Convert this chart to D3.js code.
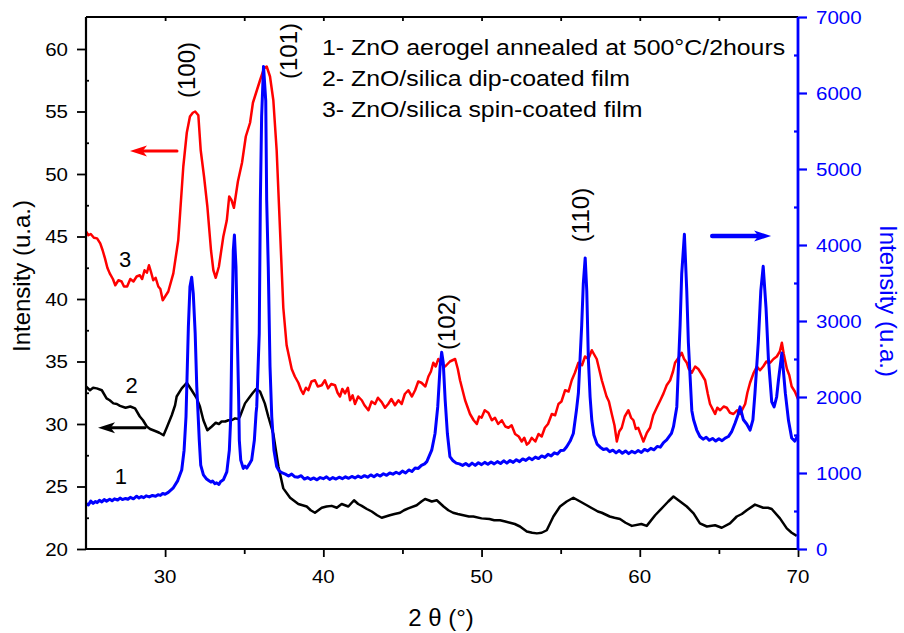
<!DOCTYPE html>
<html>
<head>
<meta charset="utf-8">
<script src="https://cdn.jsdelivr.net/npm/d3@7"></script>
<style>
	body{margin:0;background:#fff;}
	svg{display:block;font-family:"Liberation Sans",Arial,sans-serif;}
</style>
</head>
<body>
<div id="chart"></div>
<script>
//curve 1 - ZnO aerogel (right axis), [2theta, intensity]
const curve1 = [[25.0,600],[25.15,580],[25.3,630],[25.45,600],[25.6,625],[25.7,610],[25.85,640],[26.0,620],[26.15,650],[26.3,630],[26.5,655],[26.65,635],[26.8,660],[27.0,645],[27.15,670],[27.3,650],[27.5,665],[27.65,655],[27.8,680],[28.0,660],[28.2,695],[28.35,670],[28.5,690],[28.65,675],[28.8,700],[29.0,685],[29.2,705],[29.4,695],[29.55,715],[29.7,705],[29.85,730],[30.0,720],[30.2,745],[30.5,800],[30.8,900],[31.05,1040],[31.2,1300],[31.32,1740],[31.47,2920],[31.57,3450],[31.68,3575],[31.78,3360],[31.9,2840],[32.0,2140],[32.1,1700],[32.16,1430],[32.25,1105],[32.42,975],[32.6,925],[32.73,905],[32.9,880],[33.0,895],[33.15,860],[33.26,870],[33.4,850],[33.5,885],[33.68,910],[33.9,1015],[34.06,1300],[34.15,1740],[34.22,2840],[34.31,3930],[34.38,4130],[34.48,3710],[34.56,2840],[34.65,1960],[34.69,1430],[34.78,1170],[34.94,1060],[35.05,1090],[35.16,1065],[35.3,1110],[35.47,1170],[35.64,1430],[35.75,1790],[35.79,1870],[35.95,2840],[36.02,4590],[36.1,5690],[36.22,6350],[36.36,5900],[36.42,4590],[36.52,3710],[36.63,2400],[36.74,1740],[36.88,1300],[37.05,1085],[37.2,1030],[37.37,1005],[37.6,985],[37.8,960],[38.0,985],[38.2,950],[38.4,945],[38.6,965],[38.8,920],[39.0,940],[39.2,915],[39.4,935],[39.6,910],[39.8,940],[40.0,925],[40.2,950],[40.4,915],[40.6,940],[40.8,920],[41.0,945],[41.2,925],[41.4,950],[41.6,930],[41.8,955],[42.0,935],[42.2,960],[42.4,940],[42.6,965],[42.8,945],[43.0,975],[43.2,950],[43.4,980],[43.6,960],[43.8,990],[44.0,970],[44.2,1000],[44.4,985],[44.6,1010],[44.8,990],[45.0,1025],[45.2,1000],[45.4,1040],[45.6,1020],[45.8,1065],[46.0,1060],[46.2,1100],[46.4,1120],[46.54,1150],[46.85,1300],[47.06,1520],[47.23,1870],[47.38,2400],[47.48,2590],[47.58,2450],[47.7,1960],[47.84,1520],[48.0,1215],[48.2,1160],[48.4,1130],[48.6,1120],[48.8,1100],[49.0,1125],[49.2,1095],[49.4,1130],[49.6,1100],[49.8,1135],[50.0,1110],[50.2,1140],[50.4,1115],[50.6,1145],[50.8,1120],[51.0,1150],[51.2,1125],[51.4,1160],[51.6,1130],[51.8,1165],[52.0,1140],[52.2,1175],[52.4,1150],[52.6,1185],[52.8,1165],[53.0,1200],[53.2,1175],[53.4,1210],[53.6,1190],[53.8,1225],[54.0,1205],[54.2,1245],[54.4,1225],[54.6,1265],[54.8,1250],[55.0,1295],[55.2,1300],[55.38,1345],[55.6,1420],[55.8,1520],[56.0,1830],[56.12,2050],[56.33,2945],[56.43,3490],[56.55,3830],[56.65,3395],[56.75,2500],[56.86,2000],[56.97,1690],[57.1,1500],[57.3,1380],[57.5,1340],[57.7,1310],[57.9,1320],[58.1,1280],[58.3,1300],[58.5,1265],[58.7,1295],[58.9,1260],[59.1,1290],[59.3,1255],[59.5,1285],[59.7,1265],[59.9,1295],[60.1,1270],[60.3,1310],[60.5,1290],[60.7,1325],[60.9,1305],[61.1,1350],[61.3,1340],[61.5,1400],[61.7,1435],[62.0,1520],[62.13,1610],[62.34,1870],[62.55,2950],[62.65,3620],[62.82,4140],[62.97,3395],[63.07,2720],[63.29,1820],[63.4,1700],[63.6,1565],[63.8,1480],[64.0,1445],[64.2,1470],[64.4,1430],[64.6,1455],[64.8,1420],[65.0,1450],[65.2,1425],[65.4,1460],[65.6,1480],[65.8,1540],[66.02,1655],[66.2,1760],[66.34,1870],[66.55,1700],[66.76,1645],[66.97,1565],[67.15,1700],[67.28,2050],[67.49,2720],[67.65,3400],[67.8,3720],[67.98,3170],[68.13,2500],[68.34,1935],[68.49,1870],[68.65,2000],[68.77,2230],[68.98,2580],[69.2,2050],[69.4,1690],[69.6,1460],[69.8,1420],[70.0,1500]];

//curve 2 - dip-coated film (left axis)
const curve2 = [[25.0,33.0],[25.25,32.7],[25.45,32.9],[25.68,32.85],[26.0,32.7],[26.3,32.05],[26.5,31.9],[26.73,31.65],[26.95,31.6],[27.15,31.45],[27.5,31.3],[27.8,31.4],[28.1,31.25],[28.4,30.6],[28.6,30.3],[28.84,29.8],[29.05,29.6],[29.25,29.5],[29.45,29.4],[29.63,29.3],[29.9,29.1],[30.1,29.7],[30.42,30.7],[30.63,31.5],[30.73,32.2],[31.05,32.85],[31.37,33.3],[31.68,32.7],[32.0,32.05],[32.2,31.4],[32.42,30.3],[32.67,29.5],[32.95,29.8],[33.2,30.1],[33.4,30.0],[33.57,30.2],[33.8,30.2],[34.0,30.3],[34.2,30.3],[34.42,30.45],[34.63,30.4],[34.73,30.6],[35.05,31.65],[35.37,32.2],[35.55,32.5],[35.75,32.8],[36.0,32.6],[36.3,31.65],[36.52,30.6],[36.84,29.2],[37.16,26.6],[37.47,24.85],[37.9,24.1],[38.42,23.6],[38.95,23.4],[39.2,23.1],[39.47,22.9],[39.9,23.3],[40.2,23.4],[40.53,23.45],[40.85,23.3],[41.16,23.6],[41.58,23.4],[41.94,23.9],[42.2,23.6],[42.43,23.45],[42.75,23.2],[43.06,23.0],[43.4,22.7],[43.69,22.5],[44.2,22.7],[44.5,22.8],[44.85,22.9],[45.1,23.1],[45.37,23.25],[45.9,23.5],[46.2,23.8],[46.43,24.0],[46.65,23.9],[46.85,23.8],[47.17,23.9],[47.6,23.4],[47.9,23.1],[48.2,22.9],[48.5,22.8],[48.85,22.7],[49.2,22.6],[49.48,22.6],[50.0,22.45],[50.5,22.4],[50.8,22.3],[51.17,22.3],[51.5,22.2],[51.8,22.1],[52.1,22.0],[52.43,21.8],[52.86,21.4],[53.2,21.3],[53.5,21.25],[53.8,21.3],[54.12,21.5],[54.54,22.6],[54.96,23.4],[55.38,23.8],[55.8,24.1],[56.23,23.8],[56.65,23.5],[57.07,23.2],[57.35,23.0],[57.6,22.9],[58.1,22.6],[58.4,22.5],[58.75,22.4],[59.1,22.1],[59.5,21.85],[60.1,22.0],[60.44,21.85],[60.97,22.7],[61.5,23.4],[61.8,23.8],[62.13,24.2],[62.55,23.8],[62.97,23.4],[63.4,22.85],[63.8,22.05],[64.24,21.8],[64.76,21.9],[65.18,21.7],[65.7,22.05],[66.13,22.6],[66.45,22.8],[66.76,23.1],[67.28,23.55],[67.8,23.3],[68.1,23.3],[68.34,23.2],[68.86,22.45],[69.29,21.65],[69.6,21.3],[69.92,21.05]];

//curve 3 - spin-coated film (left axis)
const curve3 = [[25.0,45.4],[25.15,45.1],[25.3,45.2],[25.5,44.9],[25.7,44.85],[25.9,44.45],[26.05,43.9],[26.2,43.25],[26.35,42.5],[26.5,42.05],[26.7,41.6],[26.85,41.1],[27.05,41.5],[27.25,41.4],[27.4,41.0],[27.6,41.0],[27.8,41.6],[28.0,41.4],[28.2,41.8],[28.4,41.9],[28.55,41.6],[28.7,42.3],[28.85,42.1],[28.98,42.7],[29.1,42.2],[29.25,41.5],[29.4,41.7],[29.57,41.0],[29.7,40.8],[29.85,39.9],[30.0,40.2],[30.2,40.6],[30.52,42.05],[30.83,44.7],[30.95,46.9],[31.15,50.6],[31.37,53.3],[31.57,54.6],[31.75,54.9],[31.9,55.0],[32.1,54.7],[32.25,51.9],[32.46,49.8],[32.67,47.4],[32.9,43.9],[33.05,42.3],[33.2,41.7],[33.4,42.6],[33.68,45.0],[33.9,46.3],[34.05,48.2],[34.2,47.9],[34.35,47.3],[34.6,49.4],[34.86,50.9],[35.1,53.0],[35.37,54.1],[35.55,55.7],[35.8,56.7],[36.0,57.5],[36.25,58.45],[36.42,58.6],[36.63,57.8],[36.84,55.9],[37.05,51.9],[37.2,47.4],[37.47,39.3],[37.68,36.3],[38.0,34.4],[38.2,33.8],[38.42,33.3],[38.6,32.7],[38.73,32.4],[38.9,32.9],[39.05,32.7],[39.25,33.4],[39.47,33.5],[39.65,33.0],[39.9,33.1],[40.1,33.5],[40.3,32.85],[40.5,33.2],[40.74,33.1],[40.9,32.5],[41.05,32.2],[41.2,32.8],[41.37,32.45],[41.55,32.9],[41.69,31.9],[41.85,32.3],[42.0,31.6],[42.2,32.2],[42.43,31.9],[42.6,31.5],[42.85,31.1],[43.05,31.8],[43.27,31.6],[43.45,32.1],[43.69,31.75],[43.9,31.3],[44.1,31.6],[44.3,32.0],[44.53,31.5],[44.75,31.9],[44.95,31.6],[45.15,32.4],[45.37,32.7],[45.6,32.2],[45.8,32.7],[46.0,33.4],[46.2,33.3],[46.45,33.0],[46.64,33.8],[46.8,34.2],[46.95,34.9],[47.1,34.6],[47.27,35.2],[47.5,34.8],[47.7,34.6],[48.0,35.0],[48.33,35.2],[48.5,34.4],[48.64,33.5],[48.96,31.9],[49.27,30.8],[49.5,30.3],[49.7,30.0],[49.85,30.6],[50.0,30.5],[50.2,31.1],[50.43,30.9],[50.65,30.3],[50.85,30.5],[51.05,30.0],[51.28,30.3],[51.5,29.8],[51.7,29.7],[51.9,29.9],[52.12,29.2],[52.35,29.0],[52.54,28.6],[52.7,28.9],[52.86,28.35],[53.0,28.5],[53.17,28.9],[53.4,28.6],[53.6,29.2],[53.8,29.0],[54.0,29.7],[54.2,30.0],[54.44,30.8],[54.65,30.7],[54.86,31.6],[55.05,31.8],[55.28,32.7],[55.5,32.6],[55.7,33.5],[55.9,34.1],[56.12,34.9],[56.35,34.7],[56.54,35.4],[56.75,35.2],[56.97,35.9],[57.1,35.6],[57.28,35.2],[57.6,33.5],[57.9,32.2],[58.05,31.8],[58.23,30.8],[58.4,29.9],[58.55,28.6],[58.7,29.4],[58.86,29.7],[59.05,30.6],[59.28,31.1],[59.45,30.5],[59.6,30.3],[59.75,29.6],[59.9,29.7],[60.05,29.2],[60.23,28.6],[60.45,29.3],[60.65,29.7],[60.85,30.7],[61.07,31.3],[61.3,31.9],[61.5,32.45],[61.7,33.1],[61.92,33.5],[62.1,34.2],[62.23,34.9],[62.45,35.3],[62.65,35.7],[62.8,35.2],[62.97,34.9],[63.1,34.4],[63.29,34.1],[63.5,34.6],[63.7,34.4],[63.9,34.0],[64.13,33.5],[64.3,32.4],[64.44,31.6],[64.6,31.2],[64.76,30.8],[64.9,31.3],[65.08,31.1],[65.3,31.4],[65.5,31.3],[65.7,30.9],[65.92,30.8],[66.15,31.1],[66.34,30.8],[66.5,31.2],[66.66,31.6],[66.8,32.5],[66.97,33.3],[67.2,34.1],[67.4,34.6],[67.6,34.3],[67.8,34.6],[68.0,35.0],[68.24,34.9],[68.45,35.2],[68.66,35.4],[68.85,35.8],[68.98,36.5],[69.1,35.6],[69.3,34.4],[69.45,33.9],[69.6,33.0],[69.8,32.6],[70.0,32.0]];

//ticks
const xTicks = [30,40,50,60,70];
const xMinor = [35,45,55,65];
const xTop = [30,35,40,45,50,55,60,65];
const yLeftTicks = [20,25,30,35,40,45,50,55,60];
const yLeftMinor = [22.5,27.5,32.5,37.5,42.5,47.5,52.5,57.5];
const yRightTicks = [0,1000,2000,3000,4000,5000,6000,7000];
const yRightMinor = [500,1500,2500,3500,4500,5500,6500];

//annotations (data coords, left axis)
const legendLines = ['1- ZnO aerogel annealed at 500°C/2hours','2- ZnO/silica dip-coated film','3- ZnO/silica spin-coated film'];
const peakLabels = [{t:'(100)',x:31.38,y:58.32},{t:'(101)',x:37.83,y:59.84},{t:'(102)',x:47.76,y:38.16},{t:'(110)',x:56.29,y:46.72}];
const curveNumbers = [{t:'3',x:27.47,y:43.2},{t:'2',x:27.88,y:33.12},{t:'1',x:27.21,y:25.84}];
const arrows = [
	{x0:30.75,x1:27.78,y:51.84,c:'#ff0000',w:3},
	{x0:28.73,x1:25.76,y:29.7,c:'#000000',w:3},
	{x0:64.58,x1:68.3,y:45.04,c:'#0000ff',w:4.5}
];

const width = 904, height = 633;
const margin = {t:17,r:106,b:84,l:86};

const svg = d3.select('#chart').append('svg')
	.attr('width',width)
	.attr('height',height);

const scaleX = d3.scaleLinear().domain([25,70]).range([margin.l, width-margin.r]);
const scaleL = d3.scaleLinear().domain([20,62.56]).range([height-margin.b, margin.t]);
const scaleR = d3.scaleLinear().domain([0,7000]).range([height-margin.b, margin.t]);

const x0 = margin.l, x1 = width-margin.r, yTop = margin.t, yBot = height-margin.b;

//Curves
const lineL = d3.line().x(d => scaleX(d[0])).y(d => scaleL(d[1]));
const lineR = d3.line().x(d => scaleX(d[0])).y(d => scaleR(d[1]));

svg.append('path').datum(curve2)
	.attr('d',lineL).attr('fill','none')
	.attr('stroke','#000').attr('stroke-width',2.5).attr('stroke-linejoin','round');
svg.append('path').datum(curve3)
	.attr('d',lineL).attr('fill','none')
	.attr('stroke','#ff0000').attr('stroke-width',2.5).attr('stroke-linejoin','round');
svg.append('path').datum(curve1)
	.attr('d',lineR).attr('fill','none')
	.attr('stroke','#0000ff').attr('stroke-width',3).attr('stroke-linejoin','round');

//Axes
svg.append('g').attr('transform',`translate(0,${yBot})`)
	.call(d3.axisBottom(scaleX).tickValues(xTicks).tickSize(8).tickSizeOuter(0).tickFormat(''));
svg.append('g').attr('transform',`translate(0,${yBot})`)
	.call(d3.axisBottom(scaleX).tickValues(xMinor).tickSize(5).tickSizeOuter(0).tickFormat(''));
svg.append('g').attr('transform',`translate(0,${yTop})`)
	.call(d3.axisBottom(scaleX).tickValues(xTop).tickSize(4).tickSizeOuter(0).tickFormat(''));
svg.append('g').attr('transform',`translate(${x0},0)`)
	.call(d3.axisLeft(scaleL).tickValues(yLeftTicks).tickSize(9).tickSizeOuter(0).tickFormat(''));
svg.append('g').attr('transform',`translate(${x0},0)`)
	.call(d3.axisRight(scaleL).tickValues(yLeftMinor).tickSize(3).tickSizeOuter(0).tickFormat(''));
svg.append('g').attr('class','axis-r').attr('transform',`translate(${x1},0)`)
	.call(d3.axisRight(scaleR).tickValues(yRightTicks).tickSize(9).tickSizeOuter(0).tickFormat(''));
svg.append('g').attr('class','axis-r').attr('transform',`translate(${x1},0)`)
	.call(d3.axisLeft(scaleR).tickValues(yRightMinor).tickSize(4).tickSizeOuter(0).tickFormat(''));

svg.selectAll('.domain').remove();
svg.selectAll('.tick line').attr('stroke','#000').attr('stroke-width',1.8);
svg.selectAll('.axis-r .tick line').attr('stroke','#0000ff').attr('stroke-width',2.2);

//Frame
svg.append('line').attr('x1',x0).attr('x2',x1).attr('y1',yTop).attr('y2',yTop).attr('stroke','#000').attr('stroke-width',1.8);
svg.append('line').attr('x1',x0).attr('x2',x1).attr('y1',yBot).attr('y2',yBot).attr('stroke','#000').attr('stroke-width',2.2);
svg.append('line').attr('x1',x0).attr('x2',x0).attr('y1',yTop).attr('y2',yBot).attr('stroke','#000').attr('stroke-width',2.2);
svg.append('line').attr('x1',x1).attr('x2',x1).attr('y1',yTop).attr('y2',yBot+1).attr('stroke','#0000ff').attr('stroke-width',2.8);

//Tick labels (slightly wide lettering as in the picture)
const sx = 1.08;
svg.selectAll('.lx').data(xTicks).enter().append('text')
	.attr('transform', d => `translate(${scaleX(d)},583) scale(${sx},1)`)
	.attr('text-anchor','middle').attr('font-size',19).text(d => d);
svg.selectAll('.ll').data(yLeftTicks).enter().append('text')
	.attr('transform', d => `translate(68,${scaleL(d)}) scale(${sx},1)`)
	.attr('text-anchor','end').attr('dy','0.35em').attr('font-size',19).text(d => d);
svg.selectAll('.lr').data(yRightTicks).enter().append('text')
	.attr('transform', d => `translate(816,${scaleR(d)}) scale(${sx},1)`)
	.attr('text-anchor','start').attr('dy','0.35em').attr('font-size',19)
	.attr('fill','#0000ff').text(d => d);

//Axis titles
svg.append('text').attr('x',441).attr('y',626).attr('text-anchor','middle')
	.attr('font-size',24).text('2 θ (°)');
svg.append('text').attr('transform','translate(30,276) rotate(-90)')
	.attr('text-anchor','middle').attr('font-size',24).text('Intensity (u.a.)');
svg.append('text').attr('transform','translate(880,301) rotate(90)')
	.attr('text-anchor','middle').attr('font-size',24).attr('fill','#0000ff').text('Intensity (u.a.)');

//Legend text
svg.selectAll('.leg').data(legendLines).enter().append('text')
	.attr('transform', (d,i) => `translate(322,${55+i*31}) scale(1.105,1)`)
	.attr('font-size',22.5).text(d => d);

//Peak labels
svg.selectAll('.peak').data(peakLabels).enter().append('text')
	.attr('transform', d => `translate(${scaleX(d.x)},${scaleL(d.y)}) rotate(-90)`)
	.attr('text-anchor','middle').attr('dy','0.35em').attr('font-size',24).text(d => d.t);

//Curve numbers
svg.selectAll('.num').data(curveNumbers).enter().append('text')
	.attr('x', d => scaleX(d.x)).attr('y', d => scaleL(d.y))
	.attr('text-anchor','middle').attr('dy','0.35em').attr('font-size',22).text(d => d.t);

//Arrows
arrows.forEach(a => {
	const xa = scaleX(a.x0), xb = scaleX(a.x1), y = scaleL(a.y);
	const dir = xb > xa ? 1 : -1;
	const head = 17, hw = 5.5;
	svg.append('line').attr('x1',xa).attr('x2',xb - dir*head*0.8).attr('y1',y).attr('y2',y)
		.attr('stroke',a.c).attr('stroke-width',a.w).attr('stroke-linecap','round');
	svg.append('path')
		.attr('d',`M${xb},${y}L${xb-dir*head},${y-hw}L${xb-dir*head*0.75},${y}L${xb-dir*head},${y+hw}Z`)
		.attr('fill',a.c);
});
</script>
</body>
</html>
